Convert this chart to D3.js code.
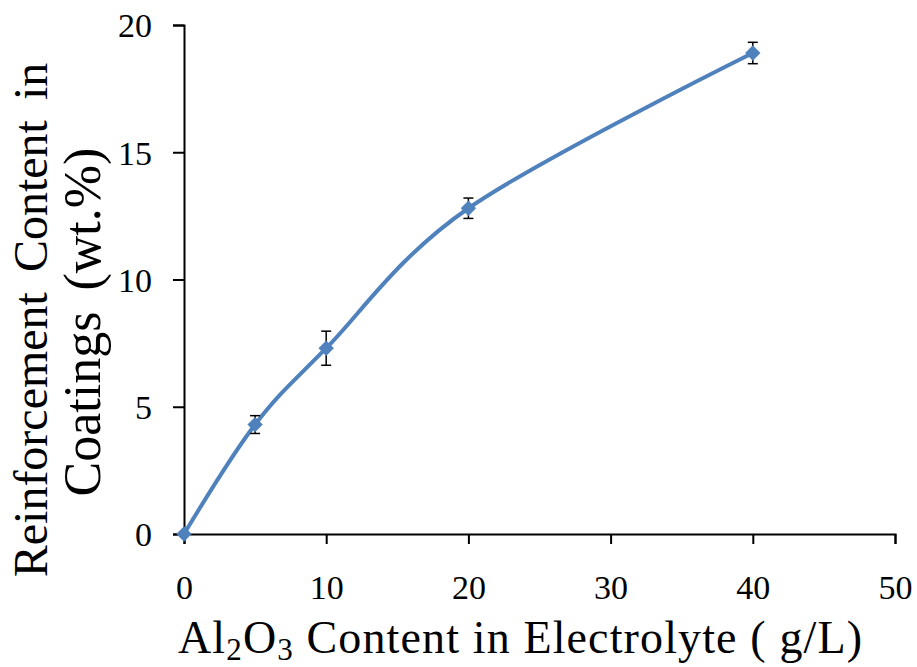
<!DOCTYPE html>
<html>
<head>
<meta charset="utf-8">
<script src="https://cdn.jsdelivr.net/npm/d3@7"></script>
<style>
  body { margin: 0; background: #fff; }
  svg { display: block; font-family: "Liberation Serif", "Times New Roman", serif; }
</style>
</head>
<body>
<svg></svg>
<script>
const width = 917;
const height = 667;

// data
const alumina = [0, 5, 10, 20, 40];
const reinforcement = [0, 4.3, 7.3, 12.8, 18.9];
const errors = [0, 0.35, 0.67, 0.4, 0.42];
const xTicks = [0, 10, 20, 30, 40, 50];
const yTicks = [0, 5, 10, 15, 20];

const points = alumina.map((a, i) => ({ x: a, y: reinforcement[i], e: errors[i] }));

const blue = "#4f81bd";

const svg = d3.select("svg").attr("width", width).attr("height", height);

const x = d3.scaleLinear().domain([0, 50]).range([184, 895]);
const y = d3.scaleLinear().domain([0, 20]).range([534, 25]);

// axes
const xAxis = svg.append("g")
  .attr("transform", `translate(0,${y(0)})`)
  .call(d3.axisBottom(x).tickValues(xTicks).tickSize(10).tickSizeOuter(10).tickPadding(30));

const yAxis = svg.append("g")
  .attr("transform", `translate(${x(0)},0)`)
  .call(d3.axisLeft(y).tickValues(yTicks).tickSize(11).tickSizeOuter(11).tickPadding(21));

for (const ax of [xAxis, yAxis]) {
  ax.selectAll("path, line").attr("stroke", "#000").attr("stroke-width", 2);
  ax.selectAll("text")
    .attr("fill", "#000")
    .style("font-family", "Liberation Serif, serif")
    .style("font-size", "34px");
}
xAxis.selectAll("text").attr("dy", "0.35em").attr("y", 53);
yAxis.selectAll("text").attr("dy", "0.35em");

// line
const line = d3.line()
  .x((d) => x(d.x))
  .y((d) => y(d.y))
  .curve(d3.curveCardinal.tension(0));

svg.append("path")
  .datum(points)
  .attr("fill", "none")
  .attr("stroke", blue)
  .attr("stroke-width", 4)
  .attr("d", line);

// error bars
const bars = svg.append("g").attr("stroke", "#000").attr("stroke-width", 1.5);
points.filter((d) => d.e > 0).forEach((d) => {
  const cx = x(d.x);
  bars.append("line").attr("x1", cx).attr("x2", cx).attr("y1", y(d.y + d.e)).attr("y2", y(d.y - d.e));
  bars.append("line").attr("x1", cx - 5).attr("x2", cx + 5).attr("y1", y(d.y + d.e)).attr("y2", y(d.y + d.e));
  bars.append("line").attr("x1", cx - 5).attr("x2", cx + 5).attr("y1", y(d.y - d.e)).attr("y2", y(d.y - d.e));
});

// markers
svg.append("g")
  .selectAll("path")
  .data(points)
  .join("path")
  .attr("transform", (d) => `translate(${x(d.x)},${y(d.y)})`)
  .attr("d", d3.symbol(d3.symbolDiamond2, 150))
  .attr("fill", blue);

// x title
const xt = svg.append("text")
  .attr("x", 178)
  .attr("y", 653)
  .attr("fill", "#000")
  .attr("textLength", 684)
  .attr("lengthAdjust", "spacing")
  .style("font-size", "46px");
xt.append("tspan").text("Al");
xt.append("tspan").text("2").attr("dy", 7).style("font-size", "31px");
xt.append("tspan").text("O").attr("dy", -7);
xt.append("tspan").text("3").attr("dy", 7).style("font-size", "31px");
xt.append("tspan").text(" Content  in Electrolyte ( g/L)").attr("dy", -7);

// y title
svg.append("text")
  .attr("transform", "translate(47,320) rotate(-90)")
  .attr("text-anchor", "middle")
  .attr("fill", "#000")
  .style("font-size", "48px")
  .style("word-spacing", "8px")
  .text("Reinforcement Content in");

svg.append("text")
  .attr("transform", "translate(100,322) rotate(-90)")
  .attr("text-anchor", "middle")
  .attr("fill", "#000")
  .style("font-size", "52px")
  .style("word-spacing", "8px")
  .text("Coatings (wt.%)");
</script>
</body>
</html>
